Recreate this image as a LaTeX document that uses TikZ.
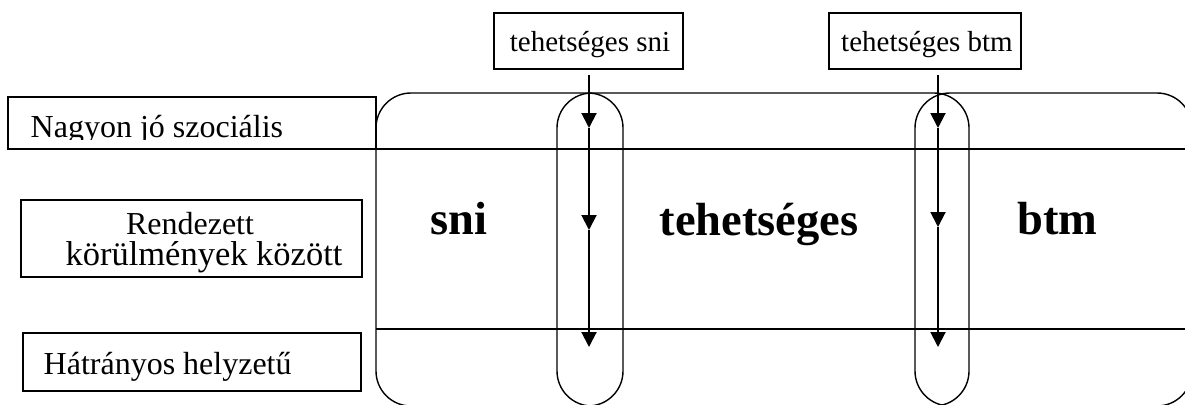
\documentclass[tikz,border=0pt]{standalone}
\usepackage{fontspec}
\setmainfont{Liberation Serif}
\usetikzlibrary{arrows.meta}
\begin{document}
\begin{tikzpicture}[x=1pt,y=-1pt,line width=1.4pt,
  frame/.style={draw,line width=1.4pt,inner sep=0pt},
  lbl/.style={font=\fontsize{32}{32}\selectfont,inner sep=0pt},
  toplbl/.style={font=\fontsize{29}{29}\selectfont,inner sep=0pt},
  big/.style={font=\fontsize{46.5}{46.5}\selectfont\bfseries,inner sep=0pt,anchor=base},
  flow/.style={line width=2pt,-{Triangle[length=15pt,width=15pt]}},
  region/.style={draw,line width=1.4pt,rounded corners=35pt}]
\useasboundingbox (0,0) rectangle (1185,404);
\begin{scope}
\clip (0,0) rectangle (1185,404);
% three overlapping rounded regions
\draw[region] (376,93) rectangle (623,406);
\draw[region] (557,93) rectangle (969,406);
\draw[region] (915,93) rectangle (1192,406);
% horizontal dividers
\draw (376,149) -- (1186,149);
\draw (376,329) -- (1186,329);
\end{scope}
% left boxes
\node[frame,minimum width=368pt,minimum height=52pt] (nagy) at (192,123) {};
\begin{scope}
\clip (8,97) rectangle (376,139.5);
\node[lbl,anchor=base west] (nagyt) at (30,137) {Nagyon jó szociális};
\end{scope}
\node[frame,minimum width=341pt,minimum height=77pt] (rend) at (191.5,238.5) {};
\node[inner sep=0pt,font=\fontsize{32}{31}\selectfont,align=center,anchor=base] (rendt) at (204,265)
  {Rendezett\hspace*{28pt}\\{\fontsize{34.5}{31}\selectfont körülmények között}};
\node[frame,minimum width=338pt,minimum height=58pt] (hatr) at (192,362) {};
\node[lbl,anchor=base west] (hatrt) at (43,374) {Hátrányos helyzetű};
% top boxes
\node[frame,minimum width=189pt,minimum height=56pt] (tsni) at (588.5,41) {};
\node[toplbl,anchor=base] (tsnit) at (590,52) {tehetséges sni};
\node[frame,minimum width=192pt,minimum height=56pt] (tbtm) at (925,41) {};
\node[toplbl,anchor=base] (tbtmt) at (927,52) {tehetséges btm};
% big labels
\node[big] (sni) at (458.5,234) {sni};
\node[big] (teh) at (759,235) {tehetséges};
\node[big] (btm) at (1057.5,234) {btm};
% arrows
\coordinate (s0) at (589,75);
\coordinate (s1) at (589,128);
\coordinate (s2) at (589,230);
\coordinate (s3) at (589,347);
\coordinate (b0) at (938,75);
\coordinate (b1) at (938,128);
\coordinate (b2) at (938,227);
\coordinate (b3) at (938,347);
\draw[flow] (s0) -- (s1);
\draw[flow] (s1) -- (s2);
\draw[flow] (s2) -- (s3);
\draw[flow] (b0) -- (b1);
\draw[flow] (b1) -- (b2);
\draw[flow] (b2) -- (b3);
\end{tikzpicture}
\end{document}
